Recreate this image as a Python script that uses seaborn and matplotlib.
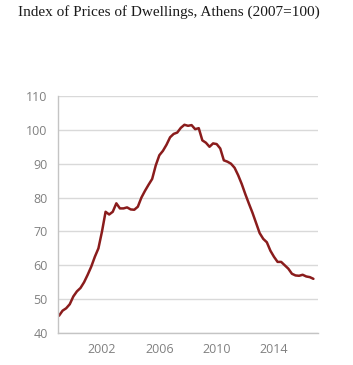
import numpy as np
import pandas as pd
import matplotlib
matplotlib.use("Agg")
import matplotlib.pyplot as plt
import seaborn as sns

# Quarterly index, 1999Q1 .. 2016Q4 (2007=100)
years = [1999 + 0.25 * i for i in range(72)]
values = [
    45.1, 46.6, 47.3, 48.5,   # 1999
    50.8, 52.3, 53.3, 55.0,   # 2000
    57.2, 59.6, 62.5, 65.0,   # 2001
    70.0, 75.8, 75.0, 75.8,   # 2002
    78.3, 76.8, 76.8, 77.1,   # 2003
    76.5, 76.4, 77.3, 80.0,   # 2004
    82.0, 83.8, 85.5, 89.5,   # 2005
    92.5, 93.8, 95.6, 97.8,   # 2006
    98.8, 99.2, 100.6, 101.5, # 2007
    101.2, 101.4, 100.2, 100.5, # 2008
    96.9, 96.2, 95.0, 96.0,   # 2009
    95.8, 94.5, 91.0, 90.6,   # 2010
    90.0, 88.8, 86.6, 84.0,   # 2011
    81.0, 78.2, 75.5, 72.5,   # 2012
    69.5, 67.8, 66.8, 64.3,   # 2013
    62.5, 61.0, 61.0, 60.0,   # 2014
    59.0, 57.5, 57.0, 56.9,   # 2015
    57.2, 56.7, 56.5, 56.0,   # 2016
]
x_ticks = [2002, 2006, 2010, 2014]
y_ticks = [40, 50, 60, 70, 80, 90, 100, 110]
title = "Index of Prices of Dwellings, Athens (2007=100)"

df = pd.DataFrame({"year": years, "index": values})

sns.set_style("white")
plt.rcParams["font.family"] = ["Open Sans", "DejaVu Sans"]

fig = plt.figure(figsize=(3.53, 3.65), dpi=100)
ax = fig.add_axes([58 / 353, 32 / 365, 260 / 353, 237 / 365])

sns.lineplot(data=df, x="year", y="index", ax=ax, color="#8a1c1c", linewidth=1.8)

ax.set_xlim(1998.93, 2017.07)
ax.set_ylim(40, 110)
ax.set_xticks(x_ticks)
ax.set_yticks(y_ticks)
ax.set_xlabel("")
ax.set_ylabel("")

grid_c = "#d9d9d9"
ax.yaxis.grid(True, color=grid_c, linewidth=1.0)
ax.xaxis.grid(False)
ax.set_axisbelow(True)
for s in ["top", "right"]:
    ax.spines[s].set_visible(False)
for s in ["left", "bottom"]:
    ax.spines[s].set_color("#c4c4c4")
    ax.spines[s].set_linewidth(1.0)

ax.tick_params(axis="y", length=4, color=grid_c, pad=3.5, labelsize=9, labelcolor="#808080")
ax.tick_params(axis="x", length=2.5, color="#c4c4c4", direction="out", pad=4.5, labelsize=9, labelcolor="#808080")

fig.text(18 / 353, 1 - 5 / 365, title, ha="left", va="top",
         family=["Liberation Serif"], fontsize=11, color="#1a1a1a")

fig.savefig("out.png", dpi=100, facecolor="white")
